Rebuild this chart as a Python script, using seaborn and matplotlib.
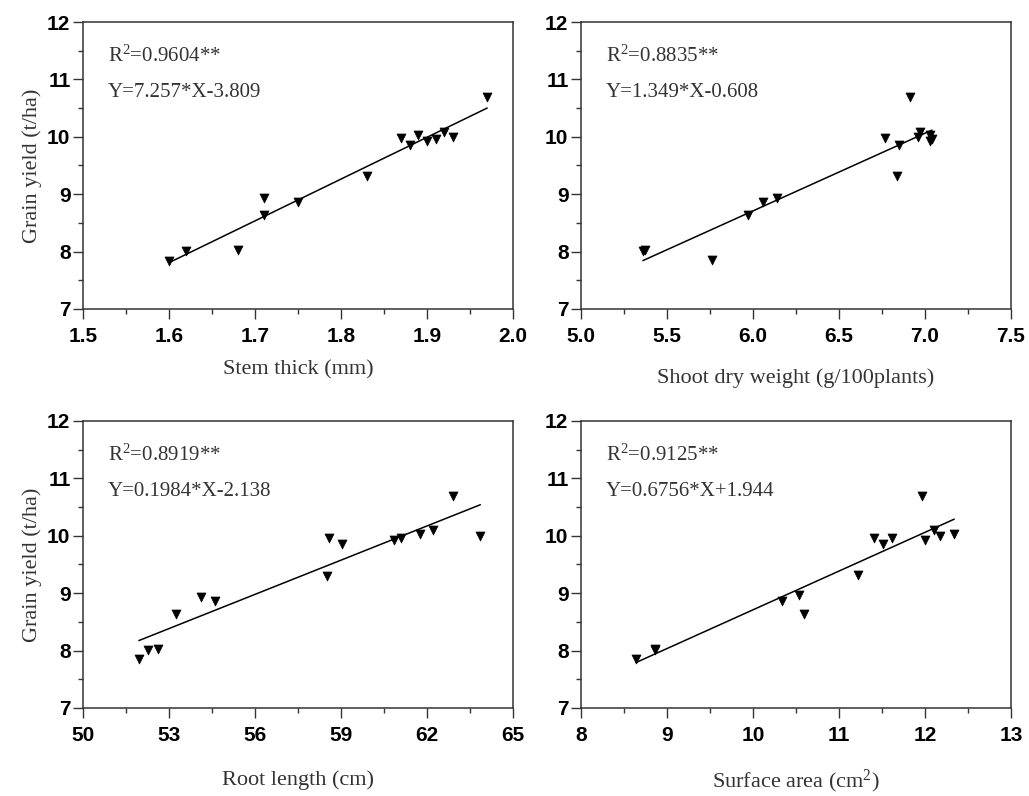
import numpy as np
import pandas as pd
import matplotlib
matplotlib.use("Agg")
import matplotlib.pyplot as plt
from matplotlib.ticker import FixedLocator, FormatStrFormatter
import seaborn as sns

# ---- data ----
stem_thick = [1.60, 1.62, 1.68, 1.71, 1.71, 1.75, 1.83, 1.87, 1.88, 1.89, 1.90, 1.91, 1.92, 1.93, 1.97]
yield_stem = [7.84, 8.01, 8.02, 8.94, 8.64, 8.87, 9.32, 9.98, 9.86, 10.04, 9.92, 9.97, 10.09, 9.99, 10.70]

shoot_dw = [5.36, 5.37, 5.76, 5.97, 6.06, 6.14, 6.77, 6.84, 6.85, 6.91, 6.96, 6.97, 7.03, 7.03, 7.04]
yield_shoot = [8.01, 8.02, 7.85, 8.64, 8.86, 8.94, 9.98, 9.32, 9.86, 10.70, 9.99, 10.09, 10.04, 9.92, 9.97]

root_len = [51.95, 52.26, 52.63, 53.23, 54.10, 54.59, 58.50, 58.58, 59.02, 60.85, 61.09, 61.76, 62.22, 62.92, 63.86]
yield_root = [7.85, 8.01, 8.02, 8.64, 8.94, 8.86, 9.30, 9.96, 9.86, 9.93, 9.97, 10.04, 10.10, 10.69, 10.00]

surf_area = [8.64, 8.86, 8.86, 10.34, 10.53, 10.59, 11.22, 11.41, 11.51, 11.62, 11.96, 12.00, 12.10, 12.17, 12.34]
yield_surf = [7.85, 8.01, 8.02, 8.87, 8.96, 8.64, 9.31, 9.97, 9.86, 9.97, 10.69, 9.93, 10.10, 9.99, 10.04]

x_labels = ["Stem thick (mm)", "Shoot dry weight (g/100plants)", "Root length (cm)", "Surface area (cm$^2$)"]
y_label = "Grain yield (t/ha)"
r2_texts = ["R$^2$=0.9604**", "R$^2$=0.8835**", "R$^2$=0.8919**", "R$^2$=0.9125**"]
eq_texts = ["Y=7.257*X-3.809", "Y=1.349*X-0.608", "Y=0.1984*X-2.138", "Y=0.6756*X+1.944"]
x_ticks = [
    [1.5, 1.6, 1.7, 1.8, 1.9, 2.0],
    [5.0, 5.5, 6.0, 6.5, 7.0, 7.5],
    [50, 53, 56, 59, 62, 65],
    [8, 9, 10, 11, 12, 13],
]
x_fmt = ["%.1f", "%.1f", "%d", "%d"]
y_ticks = [7, 8, 9, 10, 11, 12]

panels = [
    (stem_thick, yield_stem),
    (shoot_dw, yield_shoot),
    (root_len, yield_root),
    (surf_area, yield_surf),
]

sns.set_theme(style="ticks")
plt.rcParams["font.family"] = ["Liberation Serif", "DejaVu Serif"]
plt.rcParams["mathtext.fontset"] = "custom"
plt.rcParams["mathtext.rm"] = "Liberation Serif"
plt.rcParams["mathtext.it"] = "Liberation Serif:italic"
plt.rcParams["mathtext.bf"] = "Liberation Serif:bold"
plt.rcParams["mathtext.default"] = "rm"

fig = plt.figure(figsize=(10.29, 7.96), dpi=100)
W, H = 1029, 796
lefts = [83, 581]
tops = [22, 421]
aw, ah = 430, 287
positions = []
for r in range(2):
    for c in range(2):
        positions.append([lefts[c] / W, 1 - (tops[r] + ah) / H, aw / W, ah / H])

labelpads = [10, 16, 18, 16]
edge = "#333333"

for i, (xs, ys) in enumerate(panels):
    ax = fig.add_axes(positions[i])
    df = pd.DataFrame({"x": xs, "y": ys})
    sns.regplot(data=df, x="x", y="y", ax=ax, scatter=False, ci=None,
                line_kws=dict(color="black", lw=1.1))
    sns.scatterplot(data=df, x="x", y="y", ax=ax, marker="v", s=42,
                    color="black", edgecolor="black", linewidth=0.5, zorder=3)
    xt = x_ticks[i]
    ax.set_xlim(xt[0], xt[-1])
    ax.set_ylim(y_ticks[0], y_ticks[-1])
    ax.xaxis.set_major_locator(FixedLocator(xt))
    ax.xaxis.set_minor_locator(FixedLocator([(a + b) / 2 for a, b in zip(xt[:-1], xt[1:])]))
    ax.yaxis.set_major_locator(FixedLocator(y_ticks))
    ax.yaxis.set_minor_locator(FixedLocator([v + 0.5 for v in y_ticks[:-1]]))
    ax.xaxis.set_major_formatter(FormatStrFormatter(x_fmt[i]))
    ax.tick_params(axis="both", which="major", direction="out", length=7, width=1.0,
                   color=edge, labelsize=15, labelcolor="black")
    ax.tick_params(axis="both", which="minor", direction="out", length=3.5, width=1.0,
                   color=edge)
    ax.tick_params(axis="x", which="major", pad=6)
    ax.tick_params(axis="y", which="major", pad=2)
    ax.tick_params(top=False, right=False, which="both")
    for lab in ax.get_xticklabels() + ax.get_yticklabels():
        lab.set_fontfamily(["Liberation Sans", "DejaVu Sans"])
        lab.set_fontweight("bold")
    for sp in ax.spines.values():
        sp.set_visible(True)
        sp.set_color(edge)
        sp.set_linewidth(1.1)
    ax.set_xlabel(x_labels[i], fontsize=16, color="#333333", labelpad=labelpads[i])
    if i % 2 == 0:
        ax.set_ylabel(y_label, fontsize=16, color="#333333", labelpad=4)
    else:
        ax.set_ylabel("")
    ax.text(0.058, 0.88, r2_texts[i], transform=ax.transAxes, fontsize=15,
            color="#333333", va="center", ha="left")
    ax.text(0.058, 0.755, eq_texts[i], transform=ax.transAxes, fontsize=15,
            color="#333333", va="center", ha="left")

fig.savefig("out.png", dpi=100, facecolor="white")
